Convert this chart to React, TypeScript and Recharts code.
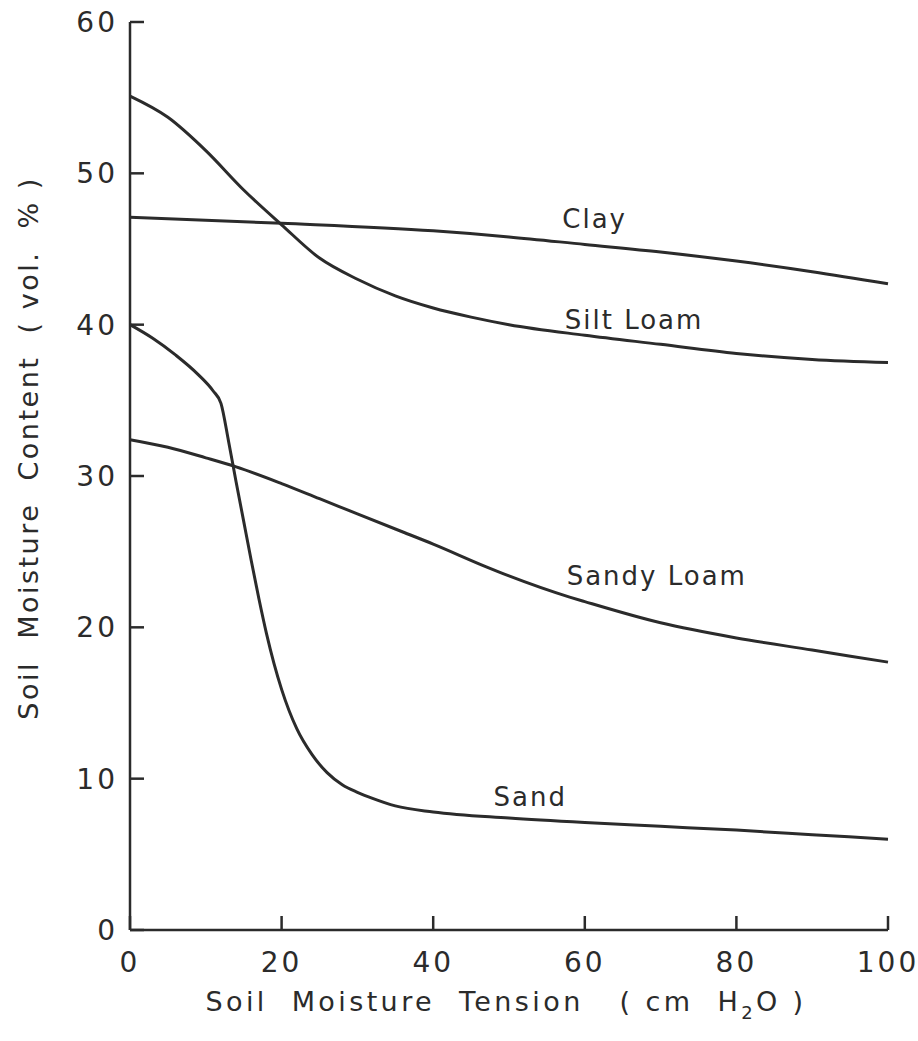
import { LineChart, Line, XAxis, YAxis, ReferenceDot } from "recharts"

const ink = "#2b2b2b"
const font = "DejaVu Sans, sans-serif"

// axis ticks
const tensionTicks = [0, 20, 40, 60, 80, 100]
const contentTicks = [0, 10, 20, 30, 40, 50, 60]

// curves (tension in cm H2O, content in vol. %)
const clayTension = [0, 20, 40, 50, 60, 70, 80, 90, 100]
const clayContent = [47.1, 46.7, 46.2, 45.8, 45.3, 44.8, 44.2, 43.5, 42.7]

const siltLoamTension = [0, 5, 10, 15, 20, 25, 30, 35, 40, 45, 50, 60, 70, 80, 90, 100]
const siltLoamContent = [55.1, 53.7, 51.5, 48.9, 46.6, 44.4, 43.0, 41.9, 41.1, 40.5, 40.0, 39.3, 38.7, 38.1, 37.7, 37.5]

const sandyLoamTension = [0, 5, 10, 14, 20, 25, 30, 36, 40, 47, 50, 58, 60, 70, 80, 90, 100]
const sandyLoamContent = [32.4, 31.9, 31.2, 30.6, 29.5, 28.5, 27.5, 26.3, 25.5, 24.0, 23.4, 22.0, 21.7, 20.3, 19.3, 18.5, 17.7]

const sandTension = [0, 3, 6, 9, 11, 12, 13, 14, 15, 16, 17, 18, 19, 20, 22, 24, 26, 28, 30, 32, 35, 40, 50, 60, 70, 80, 90, 100]
const sandContent = [40, 39.1, 38.0, 36.7, 35.6, 34.8, 32.3, 29.6, 27.0, 24.4, 21.9, 19.6, 17.6, 15.9, 13.3, 11.6, 10.4, 9.6, 9.1, 8.7, 8.2, 7.8, 7.4, 7.1, 6.85, 6.6, 6.3, 6.0]

// curve names and where their labels sit (data coords)
const curveNames = ["Clay", "Silt Loam", "Sandy Loam", "Sand"]
const labelTension = [61.3, 66.5, 69.5, 52.8]
const labelContent = [47.0, 40.3, 23.4, 8.8]

const toPoints = (xs: number[], ys: number[]) => xs.map((x, i) => ({ x, y: ys[i] }))

const series = [
  toPoints(clayTension, clayContent),
  toPoints(siltLoamTension, siltLoamContent),
  toPoints(sandyLoamTension, sandyLoamContent),
  toPoints(sandTension, sandContent),
]

const textStyle = { fontFamily: font, fill: ink, whiteSpace: "pre" as const }

const YTick = ({ x, y, payload }: any) => (
  <g>
    <line x1={x + 12} x2={x + 26} y1={y} y2={y} stroke={ink} strokeWidth={2.5} />
    <text x={x} y={y} dy={10} textAnchor="end" fontSize={28} letterSpacing={3} style={textStyle}>
      {payload.value}
    </text>
  </g>
)

const XTick = ({ x, y, payload }: any) => (
  <g>
    <line x1={x} x2={x} y1={y - 12} y2={y - 26} stroke={ink} strokeWidth={2.5} />
    <text x={x} y={y} dy={30} textAnchor="middle" fontSize={28} letterSpacing={3} style={textStyle}>
      {payload.value}
    </text>
  </g>
)

const XTitle = ({ viewBox }: any) => (
  <text
    x={viewBox.x + viewBox.width / 2 - 3}
    y={viewBox.y + 81}
    textAnchor="middle"
    fontSize={27}
    letterSpacing={3.4}
    style={textStyle}
  >
    {"Soil  Moisture  Tension   ( cm  H"}
    <tspan fontSize={18} dy={8}>2</tspan>
    <tspan dy={-8}>{"O )"}</tspan>
  </text>
)

const YTitle = ({ viewBox }: any) => {
  const cx = viewBox.x + 28
  const cy = viewBox.y + viewBox.height / 2 - 28
  return (
    <text
      x={cx}
      y={cy}
      transform={`rotate(-90, ${cx}, ${cy})`}
      textAnchor="middle"
      dominantBaseline="central"
      fontSize={27}
      letterSpacing={2.5}
      style={textStyle}
    >
      {"Soil  Moisture  Content  ( vol.  % )"}
    </text>
  )
}

const CurveLabel = (name: string) => ({ viewBox }: any) => (
  <text
    x={viewBox.x + (viewBox.width || 0) / 2}
    y={viewBox.y + (viewBox.height || 0) / 2}
    textAnchor="middle"
    dominantBaseline="central"
    fontSize={26}
    letterSpacing={2}
    style={textStyle}
  >
    {name}
  </text>
)

export default function App() {
  return (
    <div style={{ position: "absolute", left: 0, top: 0, background: "#fff" }}>
      <LineChart width={918} height={1041} margin={{ top: 22, right: 30, left: 0, bottom: 0 }}>
        <XAxis
          type="number"
          dataKey="x"
          domain={[0, 100]}
          ticks={tensionTicks}
          height={111}
          axisLine={{ stroke: ink, strokeWidth: 2.5 }}
          tickLine={false}
          tickSize={0}
          tickMargin={12}
          tick={<XTick />}
          label={{ content: <XTitle /> }}
          allowDuplicatedCategory={false}
        />
        <YAxis
          type="number"
          dataKey="y"
          domain={[0, 60]}
          ticks={contentTicks}
          width={130}
          axisLine={{ stroke: ink, strokeWidth: 2.5 }}
          tickLine={false}
          tickSize={0}
          tickMargin={12}
          tick={<YTick />}
          label={{ content: <YTitle /> }}
        />
        {series.map((pts, i) => (
          <Line
            key={curveNames[i]}
            data={pts}
            dataKey="y"
            type="monotone"
            stroke={ink}
            strokeWidth={3}
            dot={false}
            activeDot={false}
            isAnimationActive={false}
          />
        ))}
        {curveNames.map((name, i) => (
          <ReferenceDot
            key={"lbl-" + name}
            x={labelTension[i]}
            y={labelContent[i]}
            r={0}
            fill="none"
            stroke="none"
            label={{ content: CurveLabel(name) }}
          />
        ))}
      </LineChart>
    </div>
  )
}
